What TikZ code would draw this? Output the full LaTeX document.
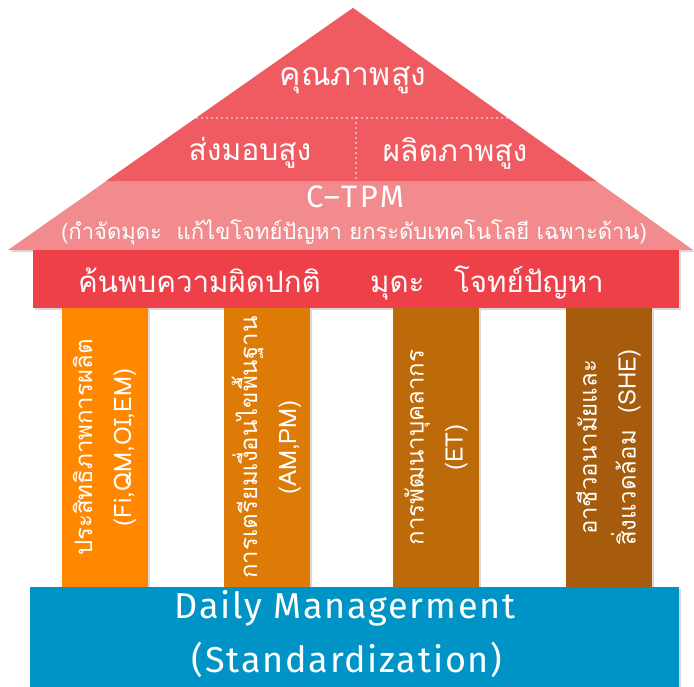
\documentclass[tikz,border=0pt]{standalone}
\usepackage{fontspec}
\setmainfont{Loma}[Script=Thai]
\newfontfamily\thai[Script=Thai]{Loma}
\newfontfamily\latin[LetterSpace=5]{Fira Sans}
\newfontfamily\latinwide[LetterSpace=9]{Fira Sans}
\usetikzlibrary{shadows}
\definecolor{roofred}{HTML}{EF5B60}
\definecolor{roofpink}{HTML}{F28B8D}
\definecolor{beamred}{HTML}{EE4048}
\definecolor{pilA}{HTML}{FF8800}
\definecolor{pilB}{HTML}{DE7A06}
\definecolor{pilC}{HTML}{BD6A0B}
\definecolor{pilD}{HTML}{A65C0C}
\definecolor{baseblue}{HTML}{0094C6}
\tikzset{
  softshadow/.style={drop shadow={shadow xshift=2pt,shadow yshift=-2pt,opacity=0.25,fill=black!60}},
  pillar/.style={draw=none,minimum width=86pt,minimum height=279pt,inner sep=0pt,softshadow},
  pilltext/.style={text=white,rotate=90,align=center,font=\thai\fontsize{24}{39}\selectfont},
  rooftext/.style={text=white,font=\thai\fontsize{30}{34}\selectfont},
  dots/.style={white,line width=1.6pt,dash pattern=on 0pt off 5pt,line cap=round}
}
\begin{document}
\begin{tikzpicture}[x=1pt,y=-1pt]
\useasboundingbox (0,0) rectangle (694,686);
% roof
\coordinate (apex) at (353,8);
\coordinate (rl) at (8,250);
\coordinate (rr) at (693,250);
\coordinate (bl) at (106,181);
\coordinate (br) at (596,181);
\fill[roofpink,softshadow] (rl) -- (apex) -- (rr) -- cycle;
\fill[roofred] (bl) -- (apex) -- (br) -- cycle;
\coordinate (dl) at (197,118);
\coordinate (dr) at (509,118);
\coordinate (dt) at (356,118);
\coordinate (db) at (356,180);
\draw[dots] (dl) -- (dr);
\draw[dots] (dt) -- (db);
\node[rooftext,font=\thai\fontsize{32}{34}\selectfont] (q) at (353,80) {คุณภาพสูง};
\node[rooftext] (d) at (250,153) {ส่งมอบสูง};
\node[rooftext] (p) at (455,153) {ผลิตภาพสูง};
\node[text=white,font=\latinwide\fontsize{31}{33}\selectfont] (ctpm) at (355,197) {C–TPM};
\node[text=white,font=\thai\fontsize{22}{24}\selectfont] (sub) at (354,232) {(กำจัดมุดะ\ \ แก้ไขโจทย์ปัญหา ยกระดับเทคโนโลยี เฉพาะด้าน)};
% beam
\node[fill=beamred,minimum width=646pt,minimum height=58pt,inner sep=0pt,softshadow] (beam) at (356,279) {};
\node[text=white,font=\thai\fontsize{29.5}{34}\selectfont] (beamtext) at (341,283) {ค้นพบความผิดปกติ\quad\ \ มุดะ\quad โจทย์ปัญหา};
% pillars
\node[pillar,fill=pilA] (p1) at (104.5,447.5) {};
\node[pillar,fill=pilB] (p2) at (266.5,447.5) {};
\node[pillar,fill=pilC] (p3) at (436,447.5) {};
\node[pillar,fill=pilD] (p4) at (608.5,447.5) {};
\node[pilltext] (t1) at (p1) {ประสิทธิภาพการผลิต\\(Fi,QM,OI,EM)};
\node[pilltext] (t2) at (p2) {การเตรียมเงื่อนไขพื้นฐาน\\(AM,PM)};
\node[pilltext] (t3) at (p3) {การพัฒนาบุคลากร\\(ET)};
\node[pilltext] (t4) at (p4) {อาชีวอนามัยและ\\สิ่งแวดล้อม\ \ (SHE)};
% base
\node[fill=baseblue,minimum width=649pt,minimum height=100pt,inner sep=0pt,softshadow] (base) at (354.5,637) {};
\node[text=white,font=\latin\fontsize{36}{38}\selectfont] (dm) at (345,608) {Daily Managerment};
\node[text=white,font=\latin\fontsize{36}{38}\selectfont] (std) at (347,660) {(Standardization)};
\end{tikzpicture}
\end{document}
